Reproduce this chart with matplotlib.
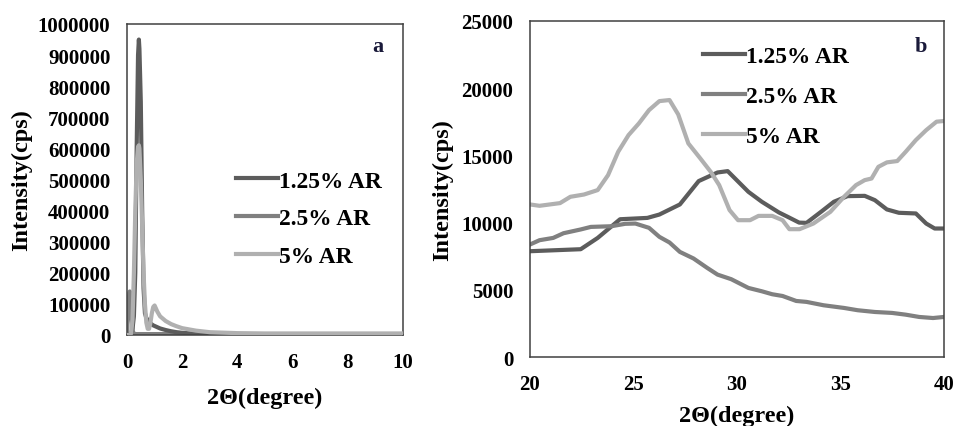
import matplotlib
matplotlib.use("Agg")
import matplotlib.pyplot as plt
from matplotlib.lines import Line2D

plt.rcParams['font.family'] = ['Liberation Serif', 'DejaVu Serif']
plt.rcParams['font.weight'] = 'bold'

series_names = ["1.25% AR", "2.5% AR", "5% AR"]
series_colors = ["#5c5c5c", "#808080", "#b0b0b0"]

# ---- Panel a (low angle) ----
a_x = [0, 0.05, 0.1, 0.15, 0.2, 0.25, 0.3, 0.35, 0.4, 0.43, 0.45, 0.5, 0.55, 0.6, 0.65,
       0.7, 0.75, 0.8, 0.85, 0.9, 0.95, 1.0, 1.1, 1.2, 1.4, 1.6, 1.8, 2.0, 2.5, 3.0,
       4, 5, 6, 7, 8, 9, 10]
a_125 = [0, 0, 2000, 5000, 20000, 60000, 200000, 600000, 900000, 950000, 920000, 750000,
         400000, 150000, 70000, 55000, 48000, 42000, 38000, 34000, 31000, 29000, 25000,
         21000, 16000, 12000, 9000, 7000, 4000, 2500, 1500, 1200, 1000, 1000, 1000, 1000, 1000]
a_25 = [0, 110000, 140000, 80000, 15000, 4000, 3000, 3000, 3000, 3000, 3000, 3000, 3000,
        3000, 3000, 3000, 3000, 3000, 3000, 3000, 3000, 3000, 3000, 3000, 3000, 3000,
        3000, 3000, 3000, 2800, 2500, 2300, 2200, 2100, 2000, 2000, 2000]
a_5 = [0, 0, 0, 5000, 50000, 200000, 400000, 550000, 605000, 610000, 600000, 500000,
       350000, 200000, 100000, 40000, 20000, 20000, 40000, 70000, 90000, 95000, 75000,
       60000, 45000, 35000, 28000, 22000, 14000, 9000, 6000, 5000, 5000, 5000, 5000, 5000, 5000]
a_xticks = [0, 2, 4, 6, 8, 10]
a_yticks = [0, 100000, 200000, 300000, 400000, 500000, 600000, 700000, 800000, 900000, 1000000]

# ---- Panel b (wide angle) ----
b_x125 = [20, 22.45, 23.27, 24.35, 25.67, 26.25, 27.24, 28.15, 29.06, 29.55, 30.55, 31.2,
          32.03, 32.45, 33.0, 33.36, 34.1, 34.68, 35.34, 36.17, 36.66, 37.24, 37.82,
          38.64, 39.14, 39.55, 40]
b_y125 = [7870, 8020, 8860, 10250, 10350, 10600, 11350, 13090, 13730, 13830, 12290, 11550,
          10750, 10430, 10000, 9980, 10850, 11550, 11970, 11990, 11670, 10980, 10730,
          10680, 9930, 9560, 9560]
b_x25 = [20, 20.46, 21.12, 21.62, 22.45, 22.94, 23.93, 24.6, 25.09, 25.75, 26.25, 26.74,
         27.24, 27.9, 28.56, 29.06, 29.72, 30.55, 31.2, 31.7, 32.2, 32.86, 33.36, 34.18,
         35.17, 35.83, 36.66, 37.49, 38.15, 38.8, 39.47, 40]
b_y25 = [8370, 8690, 8860, 9210, 9490, 9680, 9730, 9910, 9930, 9610, 8940, 8520, 7820,
         7330, 6630, 6130, 5790, 5140, 4890, 4670, 4540, 4170, 4100, 3850, 3650, 3480,
         3350, 3280, 3150, 2980, 2900, 2980]
b_x5 = [20, 20.46, 21.45, 21.95, 22.61, 23.27, 23.77, 24.26, 24.76, 25.26, 25.75, 26.25,
        26.74, 27.16, 27.65, 28.23, 28.73, 29.14, 29.64, 30.05, 30.63, 31.04, 31.7, 32.2,
        32.53, 33.02, 33.69, 34.51, 35.17, 35.75, 36.17, 36.5, 36.83, 37.24, 37.74,
        38.15, 38.64, 39.14, 39.64, 40]
b_y5 = [11350, 11250, 11450, 11920, 12090, 12420, 13530, 15270, 16510, 17380, 18370,
        19040, 19120, 18050, 15890, 14770, 13780, 12790, 10930, 10180, 10180, 10500,
        10500, 10180, 9510, 9510, 9930, 10800, 11920, 12790, 13160, 13280, 14150, 14480,
        14580, 15270, 16140, 16880, 17510, 17560]
b_xticks = [20, 25, 30, 35, 40]
b_yticks = [0, 5000, 10000, 15000, 20000, 25000]

xlabel_text = "2\u0398(degree)"
ylabel_text = "Intensity(cps)"

fig = plt.figure(figsize=(9.56, 4.27), dpi=100)
ax_a = fig.add_axes([127/956, 1-336/427, (403-127)/956, (336-25)/427])
ax_b = fig.add_axes([530/956, 1-358/427, (944-530)/956, (358-22)/427])

lw = 3.0
tick_fs = 15
label_fs = 17.5
leg_fs = 16.8

for ax in (ax_a, ax_b):
    for sp in ax.spines.values():
        sp.set_color("#404040")
        sp.set_linewidth(1.1)
    ax.tick_params(length=0, labelsize=tick_fs, pad=12)

ax_a.plot(a_x, a_25, color=series_colors[1], lw=lw, zorder=2)
ax_a.plot(a_x, a_5, color=series_colors[2], lw=lw, zorder=3)
ax_a.plot(a_x, a_125, color=series_colors[0], lw=lw, zorder=2.5)
ax_a.set_xlim(0, 10)
ax_a.set_ylim(0, 1000000)
ax_a.set_xticks(a_xticks)
ax_a.set_yticks(a_yticks)
ax_a.set_xticklabels([str(t) for t in a_xticks], fontweight='bold')
ax_a.set_yticklabels([str(t) for t in a_yticks], fontweight='bold')
ax_a.set_xlabel(xlabel_text, fontsize=label_fs, fontweight='bold', labelpad=11)
ax_a.set_ylabel(ylabel_text, fontsize=label_fs, fontweight='bold', labelpad=4)
ax_a.text(0.909, 0.929, "a", transform=ax_a.transAxes, fontsize=16, fontweight='bold',
          ha='center', va='center', color="#1a1a3a")

ax_b.plot(b_x125, b_y125, color=series_colors[0], lw=lw)
ax_b.plot(b_x25, b_y25, color=series_colors[1], lw=lw)
ax_b.plot(b_x5, b_y5, color=series_colors[2], lw=lw)
ax_b.set_xlim(20, 40)
ax_b.set_ylim(0, 25000)
ax_b.set_xticks(b_xticks)
ax_b.set_yticks(b_yticks)
ax_b.set_xticklabels([str(t) for t in b_xticks], fontweight='bold')
ax_b.set_yticklabels([str(t) for t in b_yticks], fontweight='bold')
ax_b.set_xlabel(xlabel_text, fontsize=label_fs, fontweight='bold', labelpad=8)
ax_b.set_ylabel(ylabel_text, fontsize=label_fs, fontweight='bold', labelpad=6)
ax_b.text(0.945, 0.925, "b", transform=ax_b.transAxes, fontsize=16, fontweight='bold',
          ha='center', va='center', color="#1a1a3a")

handles = [Line2D([0], [0], color=c, lw=lw) for c in series_colors]
for ax, anchor, sp in ((ax_a, (0.36, 0.56), 0.7), (ax_b, (0.396, 0.955), 0.8)):
    ax.legend(handles, series_names, loc='upper left', bbox_to_anchor=anchor,
              frameon=False, handlelength=1.8, handletextpad=0.05,
              labelspacing=sp, borderaxespad=0,
              prop={'family': 'Liberation Serif', 'weight': 'bold', 'size': leg_fs})

fig.savefig("out.png", dpi=100)
